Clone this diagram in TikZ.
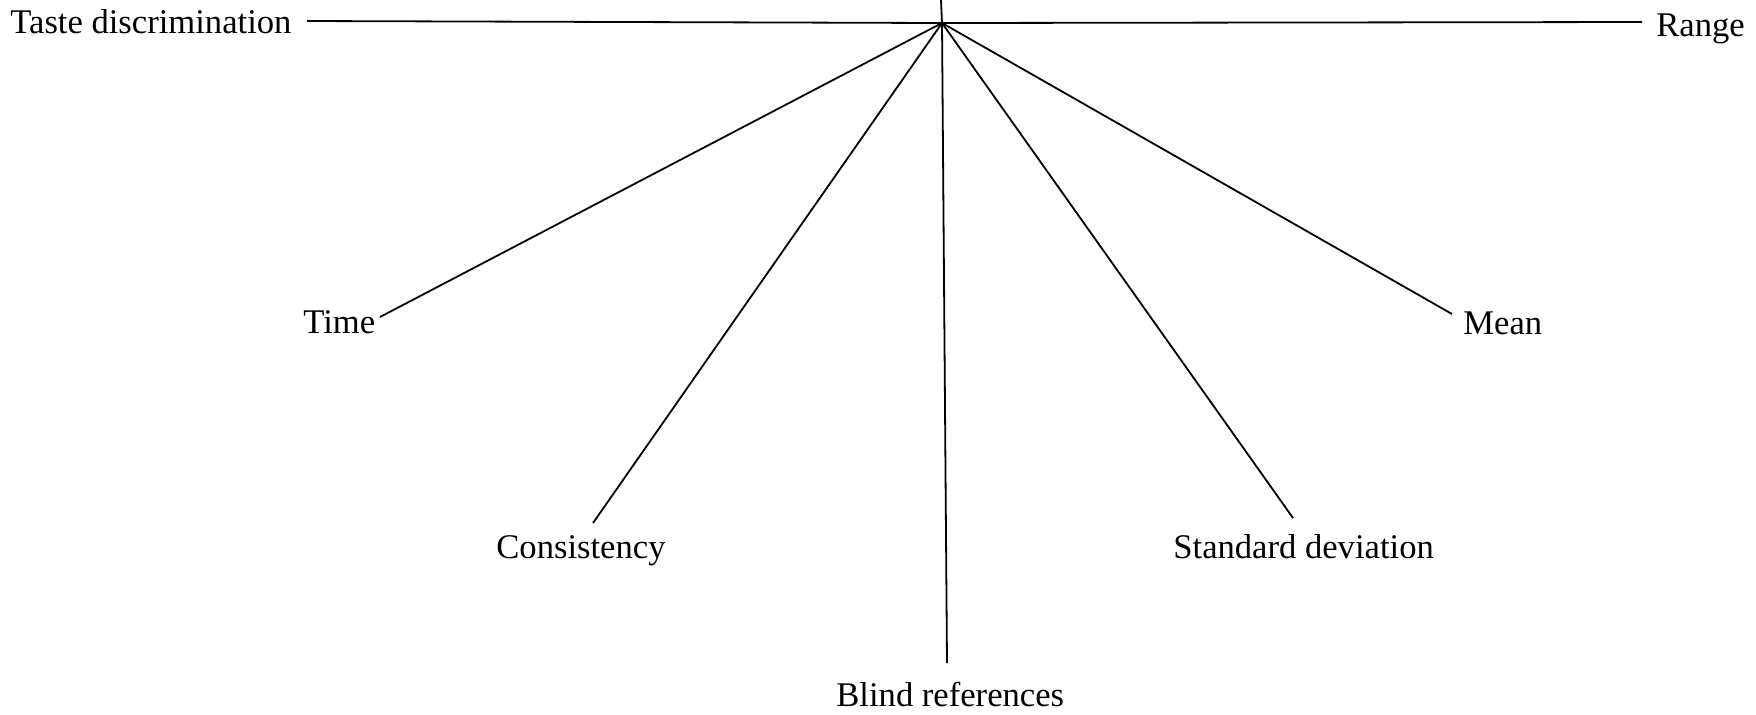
\documentclass[tikz,border=0pt]{standalone}
\usepackage{fontspec}
\setmainfont{Liberation Serif}
\begin{document}
\begin{tikzpicture}[x=0.5pt,y=-0.5pt,
  lbl/.style={inner sep=0pt,font=\fontsize{17.3}{20}\selectfont},
  spoke/.style={line width=0.9pt,black}]
\useasboundingbox (0,0) rectangle (1756,714);
% labels
\node[lbl,anchor=base west] (taste) at (10,33) {Taste discrimination};
\node[lbl,anchor=base west] (range) at (1656,36) {Range};
\node[lbl,anchor=base west] (time) at (303,333) {Time};
\node[lbl,anchor=base west] (mean) at (1463,334) {Mean};
\node[lbl,anchor=base west] (cons) at (496,558) {Consistency};
\node[lbl,anchor=base west] (sdev) at (1173,558) {Standard deviation};
\node[lbl,anchor=base west] (blind) at (836,706) {Blind references};
% hub and spoke ends
\coordinate (hub) at (942,23);
\coordinate (top) at (941,0);
\coordinate (tasteend) at (307,21);
\coordinate (rangeend) at (1642,22);
\coordinate (timeend) at (380,317);
\coordinate (meanend) at (1452,314);
\coordinate (consend) at (593,523);
\coordinate (sdevend) at (1293,518);
\coordinate (blindend) at (947,663);
% spokes
\draw[spoke] (tasteend) -- (hub) -- (rangeend);
\draw[spoke] (top) -- (hub) -- (blindend);
\draw[spoke] (hub) -- (timeend);
\draw[spoke] (hub) -- (meanend);
\draw[spoke] (hub) -- (consend);
\draw[spoke] (hub) -- (sdevend);
\end{tikzpicture}
\end{document}
